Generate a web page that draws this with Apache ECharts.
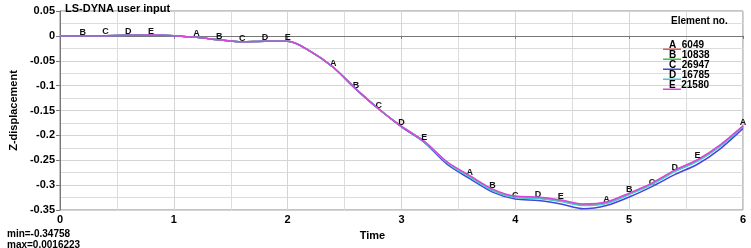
<!DOCTYPE html>
<html>
<head>
<meta charset="utf-8">
<script src="https://cdn.jsdelivr.net/npm/echarts@6/dist/echarts.min.js"></script>
<style>
html, body { margin: 0; padding: 0; background: #fff; }
#box { width: 751px; height: 248px; }
</style>
</head>
<body>
<div id="box"></div>
<script>
// time samples (s)
var time = [0, 0.2, 0.4, 0.6, 0.8, 1.0, 1.2, 1.4, 1.6, 1.8, 2.0, 2.2, 2.4, 2.6, 2.8, 3.0,
  3.2, 3.4, 3.6, 3.8, 4.0, 4.2, 4.4, 4.6, 4.8, 5.0, 5.2, 5.4, 5.6, 5.8, 6.0];

var curveA = [0, 0.0002, 0.0005, 0.0012, 0.0016, 0.0005, -0.003, -0.008, -0.012, -0.011, -0.011,
  -0.031, -0.063, -0.107, -0.147, -0.182, -0.213, -0.254, -0.283, -0.310, -0.324, -0.326, -0.332,
  -0.340, -0.336, -0.318, -0.298, -0.272, -0.251, -0.221, -0.182];
var curveB = [0, 0.0002, 0.0005, 0.0012, 0.0016, 0.0005, -0.003, -0.008, -0.012, -0.011, -0.011,
  -0.031, -0.063, -0.107, -0.147, -0.182, -0.212, -0.254, -0.282, -0.309, -0.323, -0.325, -0.331,
  -0.339, -0.335, -0.317, -0.297, -0.271, -0.250, -0.220, -0.182];
var curveC = [0, 0.0002, 0.0005, 0.0012, 0.0016, 0.0005, -0.003, -0.008, -0.012, -0.011, -0.011,
  -0.031, -0.063, -0.107, -0.147, -0.183, -0.214, -0.258, -0.287, -0.314, -0.328, -0.331, -0.338,
  -0.3476, -0.341, -0.324, -0.303, -0.279, -0.258, -0.227, -0.186];
var curveD = [0, 0.0002, 0.0005, 0.0012, 0.0016, 0.0005, -0.003, -0.008, -0.012, -0.011, -0.011,
  -0.031, -0.063, -0.107, -0.147, -0.182, -0.213, -0.255, -0.284, -0.311, -0.325, -0.327, -0.333,
  -0.341, -0.337, -0.319, -0.299, -0.273, -0.252, -0.222, -0.183];
var curveE = [0, 0.0002, 0.0005, 0.0012, 0.0016, 0.0005, -0.003, -0.008, -0.012, -0.011, -0.011,
  -0.031, -0.063, -0.107, -0.147, -0.182, -0.212, -0.253, -0.281, -0.308, -0.322, -0.324, -0.330,
  -0.338, -0.334, -0.316, -0.296, -0.270, -0.249, -0.219, -0.181];

var letters = ['A', 'B', 'C', 'D', 'E'];
var elementNo = ['6049', '10838', '26947', '16785', '21580'];
var colors = ['#e05a5a', '#33cc33', '#4545dd', '#44cccc', '#dd44dd'];
var curves = [curveA, curveB, curveC, curveD, curveE];

var myChart = echarts.init(document.getElementById('box'));
var bold = { fontFamily: 'Liberation Sans, Arial, sans-serif', fontWeight: 'bold', color: '#000' };

var series = curves.map(function (c, k) {
  return {
    name: letters[k],
    type: 'line',
    smooth: 0.3,
    showSymbol: true,
    showAllSymbol: true,
    symbol: 'circle',
    symbolSize: 0.5,
    lineStyle: { width: 1.5, color: colors[k] },
    itemStyle: { color: colors[k] },
    label: {
      show: true,
      position: 'top',
      distance: -1,
      fontSize: 9,
      fontFamily: 'Liberation Sans, Arial, sans-serif',
      fontWeight: 'bold',
      color: '#111',
      formatter: function (p) {
        return p.dataIndex > 0 && p.dataIndex % 6 === k ? letters[k] : '';
      }
    },
    emphasis: { disabled: true },
    data: time.map(function (t, i) { return [t, c[i]]; }),
    z: 2 + k
  };
});

var option = {
  animation: false,
  backgroundColor: '#fff',
  title: [
    { text: 'LS-DYNA user input', left: 60, top: -2, textStyle: Object.assign({ fontSize: 11 }, bold) },
    { text: 'Element no.', left: 666, top: 11, textStyle: Object.assign({ fontSize: 10 }, bold) },
    { text: 'min=-0.34758', left: 2, top: 224, textStyle: Object.assign({ fontSize: 10 }, bold) },
    { text: 'max=0.0016223', left: 2, top: 235, textStyle: Object.assign({ fontSize: 10 }, bold) }
  ],
  legend: {
    orient: 'vertical',
    left: 658,
    top: 35,
    itemWidth: 18,
    itemHeight: 10,
    itemGap: 0,
    icon: 'path://M0,0 L0.01,0 L0.01,0.01 L0,0.01 Z M0,8.5 L18,8.5 L18,10 L0,10 Z',
    itemStyle: { opacity: 1 },
    selectedMode: false,
    formatter: function (name) { return name + '  ' + elementNo[letters.indexOf(name)]; },
    textStyle: Object.assign({ fontSize: 10, padding: [0, 0, 0, -17] }, bold),
    data: letters
  },
  grid: { left: 60, right: 8, top: 11, bottom: 38, show: true, borderColor: '#888', borderWidth: 1 },
  xAxis: {
    type: 'value',
    min: 0, max: 6, interval: 1,
    name: 'Time',
    nameLocation: 'middle',
    nameGap: 20,
    nameTextStyle: Object.assign({ fontSize: 11, padding: [0, 58, 0, 0] }, bold),
    axisLine: { lineStyle: { color: '#777' } },
    axisTick: { show: true, length: 3, lineStyle: { color: '#777' } },
    axisLabel: Object.assign({ fontSize: 11, margin: 4 }, bold),
    splitLine: { show: true, lineStyle: { color: '#d4d4d4' } },
    minorTick: { show: false, splitNumber: 2 },
    minorSplitLine: { show: true, lineStyle: { color: '#dcdcdc' } }
  },
  yAxis: {
    type: 'value',
    min: -0.35, max: 0.05, interval: 0.05,
    name: 'Z-displacement',
    nameLocation: 'middle',
    nameGap: 19,
    nameTextStyle: Object.assign({ fontSize: 11 }, bold),
    axisLine: { show: true, lineStyle: { color: '#777' } },
    axisTick: { show: true, length: 4, lineStyle: { color: '#777' } },
    axisLabel: Object.assign({ fontSize: 11, margin: 5, formatter: function (v) { return +v.toFixed(2) + ''; } }, bold),
    splitLine: { show: true, lineStyle: { color: '#d4d4d4' } },
    minorTick: { show: false, splitNumber: 2 },
    minorSplitLine: { show: true, lineStyle: { color: '#dcdcdc' } }
  },
  series: series
};
myChart.setOption(option);
</script>
</body>
</html>
